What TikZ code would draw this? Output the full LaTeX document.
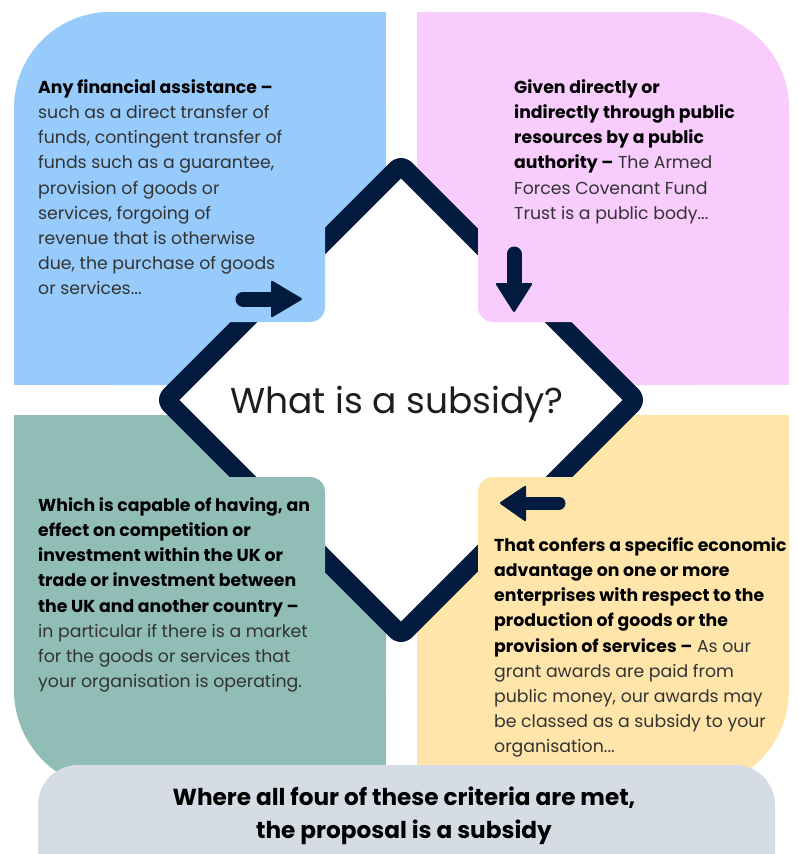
\documentclass[tikz,border=0pt]{standalone}
\usepackage{fontspec}
\setmainfont{Poppins}
\definecolor{pblue}{RGB}{151,203,252}
\definecolor{ppink}{RGB}{248,204,253}
\definecolor{pteal}{RGB}{144,189,182}
\definecolor{pyellow}{RGB}{255,229,170}
\definecolor{pbar}{RGB}{213,220,228}
\definecolor{navy}{RGB}{1,26,62}
\definecolor{bodytxt}{RGB}{51,51,51}
\newcommand\bd[1]{{\bfseries\color{black}#1}}
\begin{document}
\begin{tikzpicture}[x=1pt,y=-1pt,
  body/.style={anchor=north west, inner sep=0pt, align=left, text=bodytxt,
    font=\fontsize{17.3}{25.2}\selectfont},
  arrowshaft/.style={draw=navy, line width=15pt, line cap=round},
  arrowhead/.style={fill=navy, rounded corners=2pt}]
\useasboundingbox (0,0) rectangle (798,854);
\fill[white] (0,0) rectangle (798,854);
% quadrant panels
\fill[pblue, rounded corners=96pt] (14,12) rectangle (386,385);
\fill[pblue] (120,12) rectangle (386,385);
\fill[pblue] (14,120) rectangle (386,385);
\fill[ppink, rounded corners=96pt] (417,12) rectangle (789,385);
\fill[ppink] (417,12) rectangle (690,385);
\fill[ppink] (417,120) rectangle (789,385);
\fill[pteal, rounded corners=100pt] (14,415) rectangle (386,790);
\fill[pteal] (14,415) rectangle (386,680);
\fill[pteal] (120,415) rectangle (386,790);
\fill[pyellow, rounded corners=100pt] (417,415) rectangle (789,790);
\fill[pyellow] (417,415) rectangle (789,680);
\fill[pyellow] (417,415) rectangle (680,790);
% bottom bar
\fill[pbar, rounded corners=40pt] (38,765) rectangle (775,900);
% diamond
\coordinate (dT) at (401,165);
\coordinate (dR) at (636,400);
\coordinate (dB) at (401,635);
\coordinate (dL) at (166,400);
\filldraw[fill=white, draw=navy, line width=19pt, line join=round, rounded corners=6pt]
  (dT) -- (dR) -- (dB) -- (dL) -- cycle;
% text boxes
\fill[pblue, rounded corners=15pt] (14,200) rectangle (325,322);
\fill[pblue] (14,200) rectangle (300,322);
\fill[pblue] (14,200) rectangle (325,300);
\fill[ppink, rounded corners=15pt] (478,200) rectangle (789,322);
\fill[ppink] (500,200) rectangle (789,322);
\fill[ppink] (478,200) rectangle (789,300);
\fill[pteal, rounded corners=15pt] (14,477) rectangle (325,620);
\fill[pteal] (14,477) rectangle (300,620);
\fill[pteal] (14,500) rectangle (325,620);
\fill[pyellow, rounded corners=15pt] (478,477) rectangle (789,620);
\fill[pyellow] (500,477) rectangle (789,620);
\fill[pyellow] (478,500) rectangle (789,620);
% arrows
\coordinate (a1s) at (243,299); \coordinate (a1e) at (274,299);
\draw[arrowshaft] (a1s) -- (a1e);
\fill[arrowhead] (271,280) -- (303,299) -- (271,318) -- cycle;
\coordinate (a2s) at (514,254); \coordinate (a2e) at (514,286);
\draw[arrowshaft] (a2s) -- (a2e);
\fill[arrowhead] (495,283) -- (514,313) -- (533,283) -- cycle;
\coordinate (a3s) at (559,503); \coordinate (a3e) at (522,503);
\draw[arrowshaft, line width=13pt] (a3s) -- (a3e);
\fill[arrowhead] (526,485) -- (499,503) -- (526,522) -- cycle;
% texts
\node[anchor=base, inner sep=0pt, text={rgb,255:red,30;green,30;blue,30},
  font=\fontsize{36}{40}\selectfont] (title) at (397,413) {What is a subsidy?};
\node[body] (tl) at (38,75.36) {\strut\bd{Any financial assistance –}\\
such as a direct transfer of\\
funds, contingent transfer of\\
funds such as a guarantee,\\
provision of goods or\\
services, forgoing of\\
revenue that is otherwise\\
due, the purchase of goods\\
or services...};
\node[body] (tr) at (514,75.36) {\strut\bd{Given directly or}\\
\bd{indirectly through public}\\
\bd{resources by a public}\\
\bd{authority –} The Armed\\
Forces Covenant Fund\\
Trust is a public body...};
\node[body] (bl) at (38,493.36) {\strut\bd{Which is capable of having, an}\\
\bd{effect on competition or}\\
\bd{investment within the UK or}\\
\bd{trade or investment between}\\
\bd{the UK and another country –}\\
in particular if there is a market\\
for the goods or services that\\
your organisation is operating.};
\node[body] (br) at (494,533.36) {\strut\bd{That confers a specific economic}\\
\bd{advantage on one or more}\\
\bd{enterprises with respect to the}\\
\bd{production of goods or the}\\
\bd{provision of services –} As our\\
grant awards are paid from\\
public money, our awards may\\
be classed as a subsidy to your\\
organisation...};
\node[anchor=north, inner sep=0pt, align=center, text=black,
  font=\fontsize{23.2}{33}\selectfont\bfseries] (bar) at (404,781.9)
  {\strut Where all four of these criteria are met,\\the proposal is a subsidy};
\end{tikzpicture}
\end{document}
